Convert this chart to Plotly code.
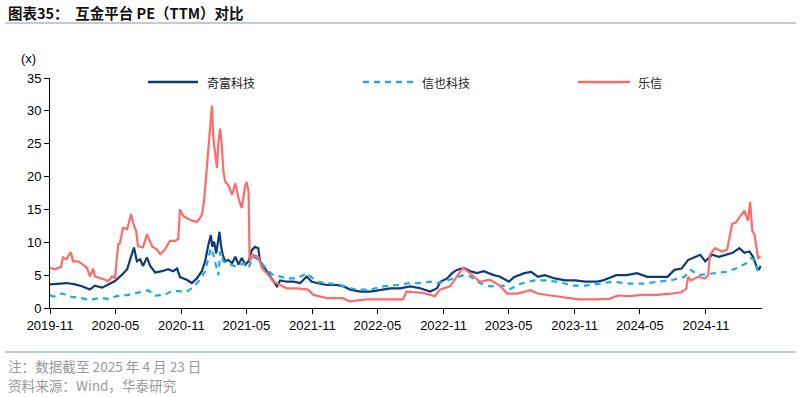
import plotly.graph_objects as go

# ---------------- data ----------------
qifu_dates = ["2019-11-22","2019-12-14","2020-01-08","2020-01-31","2020-02-19","2020-03-12","2020-03-26",
    "2020-04-15","2020-05-02","2020-05-21","2020-06-10","2020-06-24","2020-07-05","2020-07-13","2020-07-21",
    "2020-07-30","2020-08-07","2020-08-18","2020-08-27","2020-09-10","2020-09-29","2020-10-16","2020-10-30",
    "2020-11-10","2020-11-18","2020-12-07","2020-12-21","2021-01-04","2021-01-18","2021-01-27","2021-02-05",
    "2021-02-12","2021-02-16","2021-02-21","2021-02-27","2021-03-05","2021-03-08","2021-03-12","2021-03-17",
    "2021-03-24","2021-04-02","2021-04-12","2021-04-21","2021-04-30","2021-05-09","2021-05-19","2021-05-28",
    "2021-06-06","2021-06-15","2021-06-24","2021-06-29","2021-07-13","2021-07-27","2021-08-15","2021-08-24",
    "2021-09-12","2021-09-30","2021-10-19","2021-11-06","2021-11-20","2021-12-04","2022-01-01","2022-01-29",
    "2022-02-16","2022-03-07","2022-04-04","2022-05-02","2022-05-30","2022-06-27","2022-07-24","2022-08-21",
    "2022-09-18","2022-10-16","2022-11-04","2022-11-13","2022-12-02","2022-12-16","2022-12-29","2023-01-17",
    "2023-02-05","2023-02-23","2023-03-14","2023-04-11","2023-04-29","2023-05-23","2023-06-06","2023-07-05",
    "2023-07-24","2023-08-12","2023-08-31","2023-09-28","2023-10-27","2023-11-24","2023-12-22","2024-01-21",
    "2024-02-09","2024-03-17","2024-04-15","2024-05-14","2024-06-11","2024-07-10","2024-08-07","2024-08-26",
    "2024-09-15","2024-10-03","2024-10-22","2024-11-06","2024-11-20","2024-12-09","2024-12-28","2025-01-16",
    "2025-02-04","2025-02-23","2025-03-09","2025-03-23","2025-04-02","2025-04-14","2025-04-19","2025-04-23"]
qifu_pe = [3.6,3.7,3.8,3.6,3.3,2.8,3.4,
    3.1,3.6,4.1,5.1,5.9,7.9,9.2,7.1,
    7.4,6.4,7.7,6.4,5.4,5.6,5.9,5.6,
    6.0,4.7,4.3,3.8,4.5,5.6,7.1,9.6,
    11.1,9.3,10.1,8.3,11.1,11.6,9.6,8.1,
    7.1,7.3,6.8,7.8,6.6,7.6,6.6,7.1,
    8.8,9.3,9.1,7.1,6.0,4.9,3.3,4.2,
    4.0,4.0,3.8,4.8,4.0,3.8,3.5,3.5,
    3.3,2.8,2.5,2.5,2.8,3.0,3.0,3.3,
    3.0,2.5,3.0,4.0,4.5,5.3,5.8,6.1,
    5.6,5.3,5.6,5.0,4.75,4.0,4.7,5.3,
    5.5,4.75,5.0,4.5,4.2,4.2,4.0,4.0,
    4.2,5.0,5.0,5.3,4.75,4.75,4.75,5.8,
    6.0,7.3,7.8,8.1,7.1,8.1,7.8,8.1,
    8.4,9.1,8.4,8.6,7.8,6.0,5.9,6.4]

xinye_dates = ["2019-11-22","2019-12-01","2019-12-25","2020-01-21","2020-02-18","2020-03-12","2020-04-05",
    "2020-05-02","2020-05-26","2020-06-27","2020-07-21","2020-08-22","2020-09-10","2020-10-07","2020-10-26",
    "2020-11-18","2020-12-07","2020-12-25","2021-01-13","2021-01-27","2021-02-05","2021-02-12","2021-02-19",
    "2021-03-01","2021-03-05","2021-03-10","2021-03-19","2021-04-07","2021-04-25","2021-05-14","2021-05-28",
    "2021-06-10","2021-06-29","2021-07-18","2021-08-05","2021-08-24","2021-09-12","2021-10-10","2021-11-06",
    "2021-12-04","2022-01-01","2022-02-07","2022-03-07","2022-04-04","2022-05-02","2022-06-07","2022-07-14",
    "2022-08-21","2022-09-18","2022-10-16","2022-11-04","2022-11-22","2022-12-20","2023-01-17","2023-02-05",
    "2023-03-03","2023-03-31","2023-05-08","2023-05-27","2023-06-25","2023-08-02","2023-08-31","2023-10-08",
    "2023-11-15","2023-12-22","2024-01-29","2024-03-07","2024-04-24","2024-05-31","2024-07-10","2024-08-16",
    "2024-09-23","2024-10-11","2024-10-31","2024-12-09","2025-01-16","2025-02-13","2025-03-14","2025-03-28",
    "2025-04-07","2025-04-15","2025-04-23"]
xinye_pe = [2.0,1.7,2.2,1.7,1.5,1.2,1.5,
    1.4,1.8,2.0,2.3,2.7,1.9,2.0,2.6,
    2.6,2.5,3.2,4.3,5.6,7.6,9.1,8.1,
    5.6,5.0,8.6,7.1,6.6,6.3,6.8,6.1,
    7.8,7.2,5.8,5.0,4.8,4.5,4.5,5.3,
    4.0,3.8,3.5,3.0,2.8,2.8,3.3,3.5,
    3.8,3.8,4.0,3.8,4.0,4.5,5.0,4.8,
    3.8,3.3,3.4,2.9,3.7,4.2,4.2,4.0,
    3.4,3.4,3.7,4.0,3.7,3.7,4.0,4.2,
    4.75,5.8,5.0,5.3,5.5,6.0,6.8,7.6,
    7.3,5.5,6.0]

lexin_dates = ["2019-11-22","2019-12-06","2019-12-23","2019-12-28","2020-01-06","2020-01-19","2020-01-25",
    "2020-02-08","2020-02-22","2020-03-04","2020-03-12","2020-03-21","2020-03-26","2020-04-09","2020-04-23",
    "2020-05-02","2020-05-13","2020-05-21","2020-05-30","2020-06-04","2020-06-12","2020-06-24","2020-07-05",
    "2020-07-10","2020-07-19","2020-07-24","2020-08-07","2020-08-18","2020-09-01","2020-09-15","2020-09-24",
    "2020-10-07","2020-10-21","2020-11-04","2020-11-13","2020-11-18","2020-11-27","2020-12-16","2021-01-04",
    "2021-01-13","2021-01-18","2021-01-24","2021-01-30","2021-02-05","2021-02-10","2021-02-15","2021-02-19",
    "2021-02-24","2021-03-01","2021-03-05","2021-03-10","2021-03-15","2021-03-19","2021-03-24","2021-04-02",
    "2021-04-12","2021-04-21","2021-04-30","2021-05-09","2021-05-19","2021-05-23","2021-05-28","2021-05-31",
    "2021-06-10","2021-06-24","2021-07-04","2021-07-18","2021-08-05","2021-08-24","2021-09-12","2021-10-10",
    "2021-11-10","2021-11-24","2022-01-01","2022-02-15","2022-03-06","2022-04-22","2022-06-06","2022-08-01",
    "2022-08-11","2022-09-26","2022-10-29","2022-11-12","2022-12-10","2022-12-28","2023-01-15","2023-02-04",
    "2023-03-03","2023-03-31","2023-04-28","2023-05-18","2023-06-15","2023-07-23","2023-08-11","2023-09-17",
    "2023-11-04","2023-12-03","2024-01-19","2024-02-26","2024-03-21","2024-04-24","2024-05-31","2024-07-09",
    "2024-08-16","2024-09-14","2024-09-28","2024-10-03","2024-10-11","2024-10-31","2024-11-19","2024-11-28",
    "2024-12-03","2024-12-17","2025-01-06","2025-01-20","2025-02-03","2025-02-13","2025-02-23","2025-03-09",
    "2025-03-19","2025-03-25","2025-03-31","2025-04-06","2025-04-16","2025-04-23"]
lexin_pe = [6.1,5.9,6.3,7.7,7.4,8.5,7.1,
    7.1,6.6,6.1,4.8,6.0,4.8,4.6,4.3,
    4.1,4.8,4.6,9.7,9.9,12.2,12.0,14.3,
    13.0,11.7,9.4,9.2,11.2,9.4,8.9,8.2,
    8.9,10.2,10.2,10.5,15.0,14.0,13.4,13.1,
    13.7,14.2,16.2,20.2,22.8,26.8,30.8,25.8,
    23.8,21.3,25.3,27.3,24.3,20.7,19.2,18.7,
    17.2,19.0,16.7,15.2,18.7,19.2,17.7,7.1,
    8.1,7.8,6.1,5.3,4.0,3.5,3.0,3.0,
    2.8,2.0,1.5,1.5,1.0,1.3,1.3,1.3,
    2.5,2.3,1.8,2.8,3.3,4.8,6.1,5.3,
    4.0,4.3,3.4,2.2,2.2,2.7,2.2,1.9,
    1.5,1.3,1.3,1.4,1.9,1.8,2.0,2.0,
    2.2,2.4,2.9,4.75,4.2,4.75,4.5,5.0,
    8.1,9.1,8.6,8.9,12.8,13.0,13.8,14.8,
    13.3,16.1,11.7,11.2,7.6,7.8]

series_names = ["奇富科技", "信也科技", "乐信"]
series_colors = ["#0C3A7A", "#1EAAE6", "#FF6B6B"]
series_dash = ["solid", "6px,5px", "solid"]
y_ticks = [0, 5, 10, 15, 20, 25, 30, 35]

title_text = "图表35：  互金平台 PE（TTM）对比"
note_text = "注：数据截至 2025 年 4 月 23 日"
source_text = "资料来源：Wind，华泰研究"

# ---------------- figure ----------------
W, H = 800, 397
L, R, T, B = 50, 38, 78, 89
PW, PH = W - L - R, H - T - B

def px(x):
    return (x - L) / PW

def py(y):
    return (H - B - y) / PH

fig = go.Figure()
all_x = [qifu_dates, xinye_dates, lexin_dates]
all_y = [qifu_pe, xinye_pe, lexin_pe]
for i in range(3):
    fig.add_trace(go.Scatter(x=all_x[i], y=all_y[i], name=series_names[i], mode="lines",
                             showlegend=False,
                             line=dict(color=series_colors[i], width=2.2, dash=series_dash[i])))

axis_font = dict(family="Liberation Sans, Arial, sans-serif", size=13, color="#000000")

fig.update_layout(
    width=W, height=H,
    margin=dict(l=L, r=R, t=T, b=B, autoexpand=False),
    paper_bgcolor="white", plot_bgcolor="white",
    showlegend=False,
    xaxis=dict(type="date", range=["2019-11-22", "2025-04-27"],
               tick0="2019-11-22", dtick="M6", tickformat="%Y-%m",
               ticks="outside", ticklen=5, tickcolor="#000", tickwidth=1,
               showline=True, linecolor="#000", linewidth=1,
               showgrid=False, zeroline=False, tickfont=axis_font),
    yaxis=dict(range=[0, 35], tickvals=y_ticks, ticks="outside", ticklen=5,
               tickcolor="#000", tickwidth=1, showline=True, linecolor="#000",
               linewidth=1, showgrid=False, zeroline=False, tickfont=axis_font),
)

# legend (drawn as keys + labels, positioned like the reference)
legend_line_x = [(148, 198), (363, 413), (578, 630)]
legend_text_x = [205, 420, 636]
for i in range(3):
    x0, x1 = legend_line_x[i]
    fig.add_shape(type="line", xref="paper", yref="paper", x0=px(x0), x1=px(x1),
                  y0=py(82), y1=py(82),
                  line=dict(color=series_colors[i], width=2.4, dash=series_dash[i]))
    fig.add_annotation(text=series_names[i], x=px(legend_text_x[i]), y=py(82),
                       xref="paper", yref="paper", xanchor="left", yanchor="middle",
                       showarrow=False,
                       font=dict(family="Noto Sans CJK SC", size=12, color="#222222"))

fig.add_annotation(text=title_text, x=px(6), y=py(12), xref="paper", yref="paper",
                   xanchor="left", yanchor="middle", showarrow=False,
                   font=dict(family="Noto Sans CJK SC", size=14.5, color="#111111", weight="bold"))
fig.add_annotation(text="(x)", x=px(28), y=py(58), xref="paper", yref="paper",
                   xanchor="center", yanchor="middle", showarrow=False, font=axis_font)
fig.add_annotation(text=note_text, x=px(6), y=py(366), xref="paper", yref="paper",
                   xanchor="left", yanchor="middle", showarrow=False,
                   font=dict(family="Noto Sans CJK SC", size=13.6, color="#999999"))
fig.add_annotation(text=source_text, x=px(6), y=py(385), xref="paper", yref="paper",
                   xanchor="left", yanchor="middle", showarrow=False,
                   font=dict(family="Noto Sans CJK SC", size=13.6, color="#999999"))

for yy in (23, 352):
    fig.add_shape(type="line", xref="paper", yref="paper", x0=px(5), x1=px(796),
                  y0=py(yy), y1=py(yy), line=dict(color="#8096B5", width=1.2))

fig.write_html("out.html", config={"displayModeBar": False},
               post_script="document.body.style.margin='0';document.body.style.overflow='hidden';")
